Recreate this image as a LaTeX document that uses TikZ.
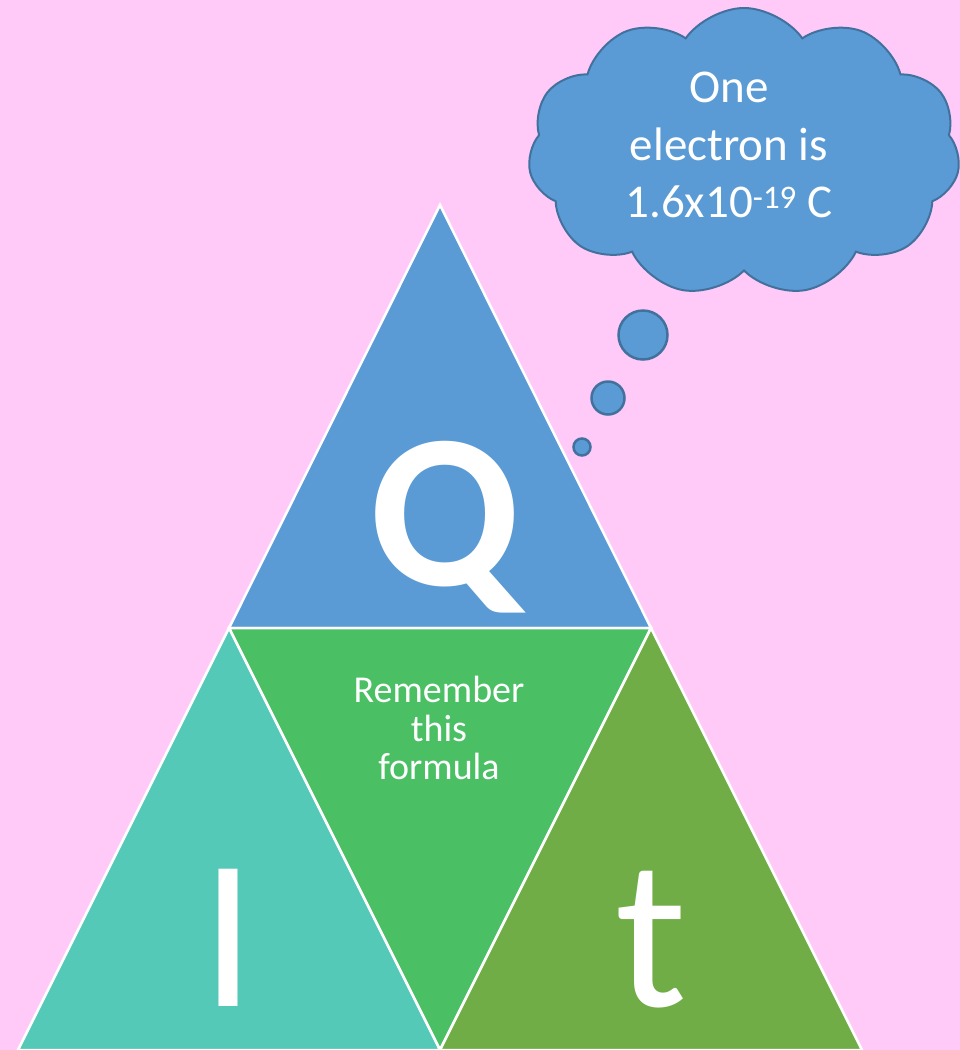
\documentclass[tikz,border=0pt]{standalone}
\usepackage{fontspec}
\setmainfont{Carlito}
\usetikzlibrary{shapes.symbols}
\definecolor{bgPink}{HTML}{FFC9F8}
\definecolor{qBlue}{HTML}{5B9BD5}
\definecolor{cloudLine}{HTML}{41719C}
\definecolor{midGreen}{HTML}{4ABF63}
\definecolor{iTeal}{HTML}{54C9B7}
\definecolor{tOlive}{HTML}{70AD47}

\begin{document}
\begin{tikzpicture}[x=1pt,y=-1pt]
  \tikzstyle{piece}=[draw=white,line width=2.5pt,line join=miter]
  \tikzstyle{bigLetter}=[text=white,inner sep=0pt,anchor=base,font=\fontsize{214}{214}\selectfont]
  \tikzstyle{bubble}=[circle,draw=cloudLine,line width=2.5pt,fill=qBlue,inner sep=0pt]
  \tikzstyle{note}=[text=white,align=center,inner sep=0pt]

  \useasboundingbox (0,0) rectangle (960,1050);
  \fill[bgPink] (0,0) rectangle (960,1050);

  \coordinate (apex) at (440,205);
  \coordinate (midL) at (229,628);
  \coordinate (midR) at (651,628);
  \coordinate (botL) at (18,1050);
  \coordinate (botM) at (440,1050);
  \coordinate (botR) at (862,1050);

  \filldraw[piece,fill=qBlue] (apex) -- (midL) -- (midR) -- cycle;
  \filldraw[piece,fill=midGreen] (midL) -- (midR) -- (botM) -- cycle;
  \filldraw[piece,fill=iTeal] (midL) -- (botM) -- (botL) -- cycle;
  \filldraw[piece,fill=tOlive] (midR) -- (botR) -- (botM) -- cycle;

  \node[bigLetter,font=\bfseries\fontsize{220}{220}\selectfont](q) at (445,585) {Q};
  \node[bigLetter](i) at (228,1006) {I};
  \node[bigLetter](t) at (651,1006) {t};
  \node[note,font=\fontsize{38}{38.5}\selectfont](remember) at (439,728) {Remember\\this\\formula};

  \node[cloud,cloud puffs=11,cloud puff arc=110,draw=cloudLine,line width=2pt,fill=qBlue,minimum width=432,minimum height=288](cloud) at (744,152) {};
  \node[note,font=\fontsize{47}{57.5}\selectfont](electron) at (729,145) {One\\electron is\\1.6x10\textsuperscript{-19} C};

  \node[bubble,minimum size=49](bubble1) at (643,335) {};
  \node[bubble,minimum size=33](bubble2) at (608,398) {};
  \node[bubble,minimum size=17](bubble3) at (582,447) {};
\end{tikzpicture}
\end{document}
